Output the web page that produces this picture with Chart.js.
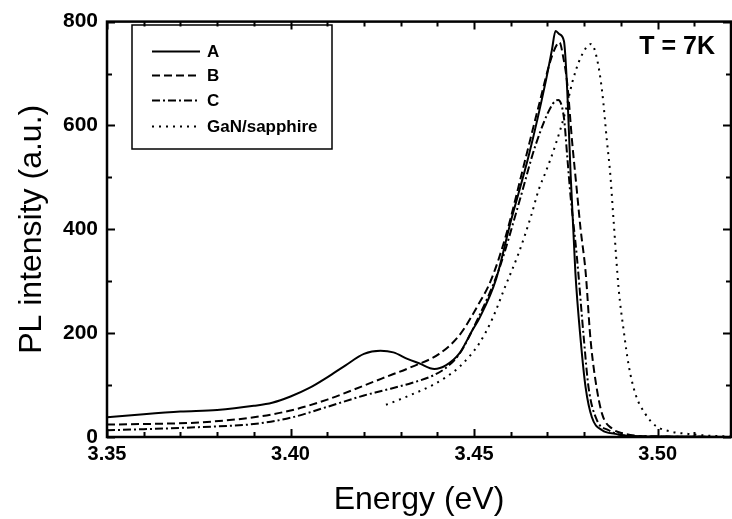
<!DOCTYPE html>
<html lang="en">
<head>
    <meta charset="UTF-8">
    <title>PL spectra at 7K</title>
    <script src="https://cdn.jsdelivr.net/npm/chart.js"></script>
    <style>
        html, body {
            margin: 0;
            padding: 0;
            background: #ffffff;
        }
        #wrap {
            width: 732px;
            height: 519px;
        }
    </style>
</head>
<body>
    <div id="wrap">
        <canvas id="plChart" width="732" height="519"></canvas>
    </div>

    <script>
        // values
        const energyA = [3.350, 3.360, 3.370, 3.380, 3.390, 3.395, 3.400, 3.405, 3.410, 3.415, 3.420, 3.4245, 3.428, 3.432, 3.435, 3.4392, 3.4423, 3.446, 3.4495, 3.4514, 3.456, 3.460, 3.465, 3.4695, 3.4712, 3.4722, 3.4732, 3.4745, 3.4754, 3.4763, 3.4776, 3.479, 3.4804, 3.4821, 3.4849, 3.4885, 3.492, 3.500, 3.520];
        const intensityA = [38, 44, 49, 52, 60, 66, 78, 94, 115, 138, 160, 166, 163, 150, 142, 131, 138, 161, 205, 228, 304, 415, 545, 684, 745, 782, 776, 762, 665, 507, 317, 190, 95, 38, 13, 6, 2, 1, 0];

        const energyB = [3.350, 3.360, 3.375, 3.390, 3.400, 3.410, 3.420, 3.425, 3.433, 3.4405, 3.446, 3.4514, 3.4545, 3.4586, 3.4632, 3.4677, 3.4713, 3.4733, 3.4742, 3.4754, 3.4767, 3.478, 3.479, 3.4804, 3.4817, 3.4831, 3.4849, 3.4876, 3.4912, 3.495, 3.500, 3.520];
        const intensityB = [24, 25, 28, 38, 51, 72, 99, 113, 135, 160, 196, 258, 300, 386, 513, 640, 735, 760, 735, 680, 570, 475, 402, 317, 190, 108, 44, 16, 6, 2, 1, 0];

        const energyC = [3.350, 3.360, 3.375, 3.390, 3.400, 3.410, 3.420, 3.425, 3.433, 3.4387, 3.4423, 3.446, 3.4505, 3.4568, 3.4622, 3.4668, 3.4713, 3.4729, 3.4745, 3.4754, 3.4763, 3.478, 3.4799, 3.4812, 3.4835, 3.4867, 3.490, 3.500, 3.520];
        const intensityC = [13, 15, 19, 25, 37, 58, 80, 89, 104, 118, 133, 160, 220, 323, 450, 563, 640, 649, 614, 539, 463, 348, 190, 95, 32, 13, 4, 1, 0];

        const energyG = [3.426, 3.430, 3.4387, 3.4423, 3.446, 3.4514, 3.455, 3.4585, 3.4622, 3.4655, 3.4677, 3.4695, 3.4722, 3.4749, 3.4768, 3.479, 3.4819, 3.4835, 3.4849, 3.4862, 3.4871, 3.488, 3.4894, 3.4908, 3.4921, 3.494, 3.4967, 3.4994, 3.5039, 3.5084, 3.513, 3.520];
        const intensityG = [62, 73, 100, 115, 135, 180, 228, 290, 355, 425, 478, 510, 563, 627, 684, 730, 757, 728, 665, 570, 507, 418, 285, 203, 139, 82, 44, 22, 10, 6, 3, 1];

        const seriesNames = ['A', 'B', 'C', 'GaN/sapphire'];
        const xTickValues = [3.35, 3.40, 3.45, 3.50];
        const yTickValues = [0, 200, 400, 600, 800];
        const tempLabel = 'T = 7K';

        const FONT = '"Liberation Sans", Arial, Helvetica, sans-serif';

        function toPoints(xs, ys) {
            return xs.map((x, i) => ({ x: x, y: ys[i] }));
        }

        // frame with inward ticks on all four sides
        const framePlugin = {
            id: 'frame',
            afterDatasetsDraw(chart) {
                const { ctx, chartArea: a, scales } = chart;
                const xs = scales.x, ys = scales.y;
                ctx.save();
                ctx.strokeStyle = '#000';
                ctx.lineWidth = 2;
                ctx.beginPath();
                for (let k = 0; k < 17; k++) {
                    const v = 3.35 + k * 0.01;
                    const px = Math.round(xs.getPixelForValue(v)) + 0.5;
                    const len = (k % 5 === 0) ? 8 : 5;
                    ctx.moveTo(px, a.bottom); ctx.lineTo(px, a.bottom - len);
                    ctx.moveTo(px, a.top); ctx.lineTo(px, a.top + len);
                }
                for (let v = 0; v <= 800; v += 100) {
                    const py = Math.round(ys.getPixelForValue(v)) + 0.5;
                    const len = (v % 200 === 0) ? 8 : 5;
                    ctx.moveTo(a.left, py); ctx.lineTo(a.left + len, py);
                    ctx.moveTo(a.right, py); ctx.lineTo(a.right - len, py);
                }
                ctx.stroke();
                ctx.lineWidth = 2.5;
                ctx.strokeRect(a.left, a.top, a.right - a.left, a.bottom - a.top);
                ctx.restore();
            }
        };

        // boxed legend in the upper left and the temperature note
        const legendPlugin = {
            id: 'boxLegend',
            afterDraw(chart) {
                const ctx = chart.ctx;
                ctx.save();
                ctx.strokeStyle = '#000';
                ctx.lineWidth = 1.5;
                ctx.strokeRect(132, 25, 200, 124);
                const rows = [51, 75, 100, 126];
                chart.data.datasets.forEach((ds, i) => {
                    const y = rows[i] + 0.5;
                    ctx.setLineDash(ds.borderDash || []);
                    ctx.lineWidth = ds.borderWidth;
                    ctx.beginPath();
                    ctx.moveTo(152, y);
                    ctx.lineTo(200, y);
                    ctx.stroke();
                    ctx.setLineDash([]);
                    ctx.fillStyle = '#000';
                    ctx.font = 'bold 17px ' + FONT;
                    ctx.textBaseline = 'middle';
                    ctx.textAlign = 'left';
                    ctx.fillText(ds.label, 207, rows[i] + 1);
                });
                ctx.font = 'bold 25px ' + FONT;
                ctx.textAlign = 'right';
                ctx.textBaseline = 'middle';
                ctx.fillText(tempLabel, 715, 47);
                ctx.restore();
            }
        };

        const common = {
            borderColor: '#000',
            backgroundColor: '#000',
            borderWidth: 2,
            pointRadius: 0,
            showLine: true,
            fill: false,
            cubicInterpolationMode: 'monotone'
        };

        const ctx = document.getElementById('plChart').getContext('2d');
        new Chart(ctx, {
            type: 'scatter',
            data: {
                datasets: [
                    Object.assign({ label: seriesNames[0], data: toPoints(energyA, intensityA), borderDash: [] }, common),
                    Object.assign({ label: seriesNames[1], data: toPoints(energyB, intensityB), borderDash: [8, 4] }, common),
                    Object.assign({ label: seriesNames[2], data: toPoints(energyC, intensityC), borderDash: [8, 3, 2, 3] }, common),
                    Object.assign({ label: seriesNames[3], data: toPoints(energyG, intensityG), borderDash: [2, 5] }, common)
                ]
            },
            options: {
                responsive: false,
                animation: false,
                devicePixelRatio: 1,
                layout: { padding: { top: 16, right: 1, left: 0, bottom: 0 } },
                plugins: {
                    legend: { display: false },
                    tooltip: { enabled: false }
                },
                scales: {
                    x: {
                        type: 'linear',
                        min: 3.35,
                        max: 3.52,
                        grid: { display: false, drawTicks: false },
                        border: { display: false },
                        afterBuildTicks: (scale) => {
                            scale.ticks = xTickValues.map(v => ({ value: v }));
                        },
                        afterFit: (scale) => { scale.height = 82; },
                        ticks: {
                            color: '#000',
                            padding: 5,
                            maxRotation: 0,
                            font: { family: FONT, size: 20, weight: 'bold' },
                            callback: (v) => Number(v).toFixed(2)
                        },
                        title: {
                            display: true,
                            text: 'Energy (eV)',
                            color: '#000',
                            padding: { top: 0, bottom: 0 },
                            font: { family: FONT, size: 32, weight: 'normal' }
                        }
                    },
                    y: {
                        min: 0,
                        max: 800,
                        grid: { display: false, drawTicks: false },
                        border: { display: false },
                        afterBuildTicks: (scale) => {
                            scale.ticks = yTickValues.map(v => ({ value: v }));
                        },
                        afterFit: (scale) => { scale.width = 107; },
                        ticks: {
                            color: '#000',
                            padding: 9,
                            font: { family: FONT, size: 21, weight: 'bold' }
                        },
                        title: {
                            display: true,
                            text: 'PL intensity (a.u.)',
                            color: '#000',
                            padding: { top: 13, bottom: 0 },
                            font: { family: FONT, size: 32, weight: 'normal' }
                        }
                    }
                }
            },
            plugins: [framePlugin, legendPlugin]
        });
    </script>
</body>
</html>
